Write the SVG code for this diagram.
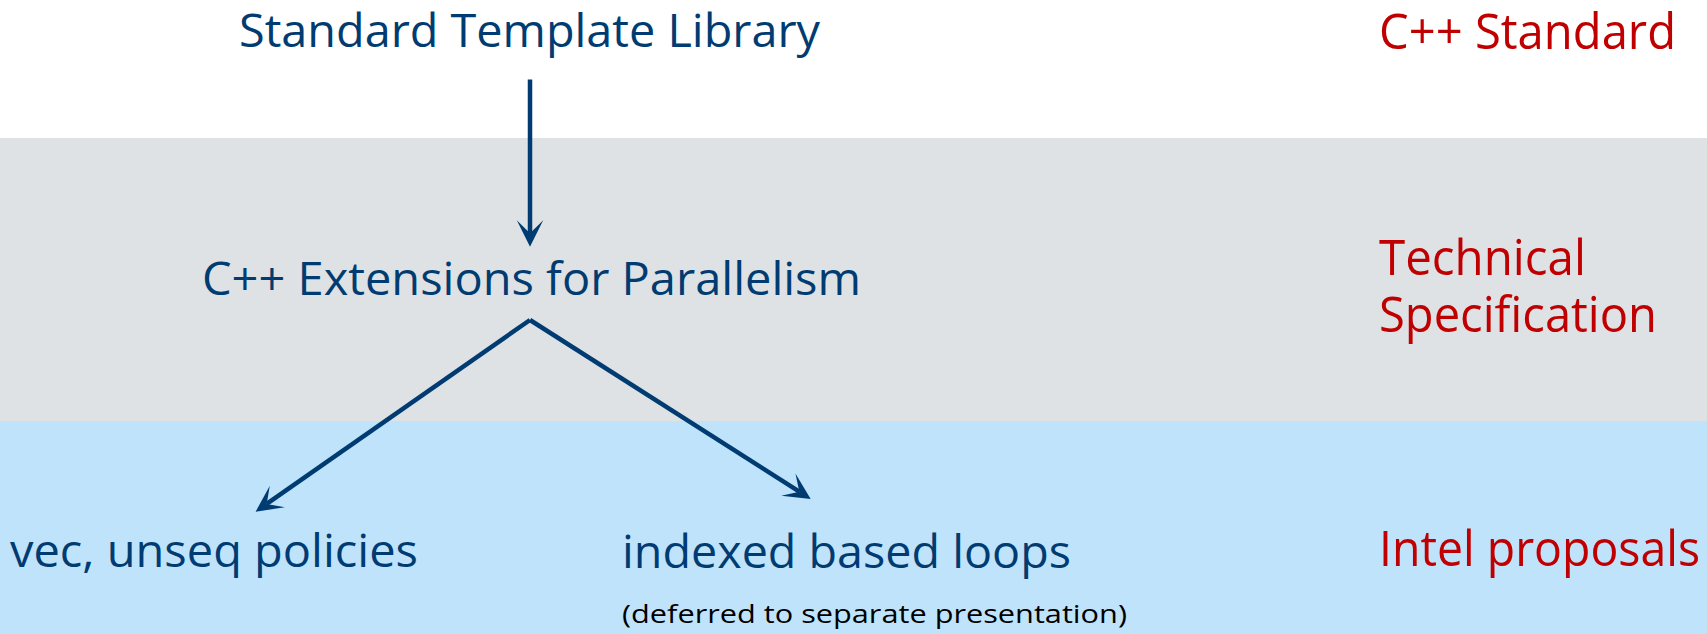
<svg xmlns="http://www.w3.org/2000/svg" width="1707" height="634" viewBox="0 0 1707 634">
  <style>
    .lbl { font-family: "Open Sans", "Noto Sans", "Liberation Sans", sans-serif; fill: #003C71; font-size: 46px; }
    .tier { font-family: "Open Sans", "Noto Sans", "Liberation Sans", sans-serif; fill: #C00000; font-size: 50px; }
    .note { font-family: "Open Sans", "Noto Sans", "Liberation Sans", sans-serif; fill: #000000; font-size: 25px; }
    .conn { stroke: #003C71; stroke-width: 4.5; fill: none; marker-end: url(#barb); }
  </style>
  <defs>
    <!-- barbed arrowhead; reference point sits at the notch, the tip runs 13.5px ahead -->
    <marker id="barb" markerUnits="userSpaceOnUse" viewBox="-14 -14 28 28" markerWidth="28" markerHeight="28" refX="0" refY="0" orient="auto">
      <path d="M13.5,0 L-13,-13.2 L0,0 L-13,13.2 Z" fill="#003C71"/>
    </marker>
  </defs>

  <!-- tier bands -->
  <g id="bands">
    <rect x="0" y="0" width="1707" height="138" fill="#FFFFFF"/>
    <rect x="0" y="138" width="1707" height="283" fill="#DFE2E5"/>
    <rect x="0" y="421" width="1707" height="213" fill="#C0E3FC"/>
  </g>

  <!-- tier captions -->
  <g id="tier-labels">
    <text class="tier" x="1379" y="49" textLength="297" lengthAdjust="spacingAndGlyphs">C++ Standard</text>
    <text class="tier" x="1379" y="275" textLength="207" lengthAdjust="spacingAndGlyphs">Technical</text>
    <text class="tier" x="1379" y="332" textLength="278" lengthAdjust="spacingAndGlyphs">Specification</text>
    <text class="tier" x="1379" y="566" textLength="321" lengthAdjust="spacingAndGlyphs">Intel proposals</text>
  </g>

  <g id="node-stl">
    <text class="lbl" x="239" y="47" textLength="581" lengthAdjust="spacingAndGlyphs">Standard Template Library</text>
  </g>
  <g id="node-parallelism-ts">
    <text class="lbl" x="202" y="295" textLength="659" lengthAdjust="spacingAndGlyphs">C++ Extensions for Parallelism</text>
  </g>
  <g id="node-vec-unseq">
    <text class="lbl" x="10" y="567" textLength="408" lengthAdjust="spacingAndGlyphs">vec, unseq policies</text>
  </g>
  <g id="node-index-loops">
    <text class="lbl" x="622" y="568" textLength="449" lengthAdjust="spacingAndGlyphs">indexed based loops</text>
    <text class="note" x="622" y="623" textLength="505" lengthAdjust="spacingAndGlyphs">(deferred to separate presentation)</text>
  </g>

  <g id="connectors">
    <line class="conn" x1="530" y1="79.5" x2="530" y2="233.2"/>
    <line class="conn" x1="530" y1="320" x2="266.7" y2="503.9"/>
    <line class="conn" x1="530" y1="320" x2="799.3" y2="491.7"/>
  </g>
</svg>
